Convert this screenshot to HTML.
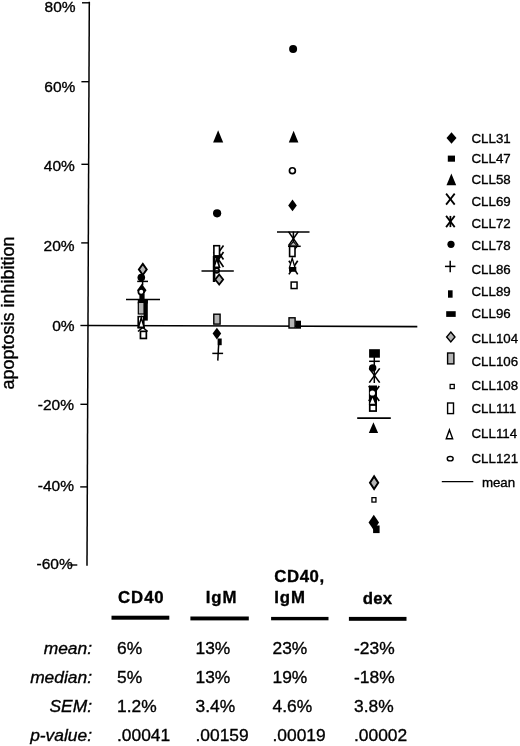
<!DOCTYPE html>
<html><head><meta charset="utf-8"><title>apoptosis inhibition</title>
<style>
html,body{margin:0;padding:0;background:#fff;}
body{width:520px;height:746px;overflow:hidden;position:relative;}
svg{position:absolute;left:0;top:0;display:block;filter:grayscale(1) blur(0.3px);}
text{font-family:"Liberation Sans", sans-serif;fill:#000;stroke:#000;stroke-width:0.35px;}
</style></head><body>
<svg width="520" height="746" viewBox="0 0 520 746">
<line x1="89.3" y1="1.8" x2="87.0" y2="565.8" stroke="#000" stroke-width="1.5"/>
<line x1="82.0" y1="2.8" x2="89.3" y2="2.8" stroke="#000" stroke-width="1.4"/>
<text x="75.6" y="11.5" font-size="15.5" text-anchor="end">80%</text>
<line x1="81.4" y1="81.7" x2="88.97" y2="81.7" stroke="#000" stroke-width="1.4"/>
<text x="75.3" y="91.5" font-size="15.5" text-anchor="end">60%</text>
<line x1="81.4" y1="164.3" x2="88.64" y2="164.3" stroke="#000" stroke-width="1.4"/>
<text x="74.9" y="171.1" font-size="15.5" text-anchor="end">40%</text>
<line x1="81.2" y1="242.9" x2="88.32" y2="242.9" stroke="#000" stroke-width="1.4"/>
<text x="74.6" y="251.2" font-size="15.5" text-anchor="end">20%</text>
<line x1="80.4" y1="325.5" x2="87.98" y2="325.5" stroke="#000" stroke-width="1.4"/>
<text x="74.6" y="330.5" font-size="15.5" text-anchor="end">0%</text>
<line x1="80.4" y1="404.3" x2="87.66" y2="404.3" stroke="#000" stroke-width="1.4"/>
<text x="74.0" y="410.2" font-size="15.5" text-anchor="end">-20%</text>
<line x1="80.2" y1="486.9" x2="87.32" y2="486.9" stroke="#000" stroke-width="1.4"/>
<text x="74.0" y="490.8" font-size="15.5" text-anchor="end">-40%</text>
<line x1="69.2" y1="565.0" x2="77.3" y2="565.0" stroke="#000" stroke-width="1.4"/>
<text x="72.7" y="569.0" font-size="15.5" text-anchor="end">-60%</text>
<line x1="87.98" y1="325.5" x2="417.3" y2="326.6" stroke="#000" stroke-width="1.6"/>
<text transform="translate(14.2,389.5) rotate(-90)" font-size="18" x="0" y="0">apoptosis inhibition</text>
<text x="471.5" y="142.6" font-size="13.3" text-anchor="start">CLL31</text>
<text x="471.5" y="163.4" font-size="13.3" text-anchor="start">CLL47</text>
<text x="471.5" y="184.4" font-size="13.3" text-anchor="start">CLL58</text>
<text x="471.5" y="205.9" font-size="13.3" text-anchor="start">CLL69</text>
<text x="471.5" y="227.8" font-size="13.3" text-anchor="start">CLL72</text>
<text x="471.5" y="250.1" font-size="13.3" text-anchor="start">CLL78</text>
<text x="471.5" y="273.5" font-size="13.3" text-anchor="start">CLL86</text>
<text x="471.5" y="296.2" font-size="13.3" text-anchor="start">CLL89</text>
<text x="471.5" y="318.2" font-size="13.3" text-anchor="start">CLL96</text>
<text x="471.5" y="342.5" font-size="13.3" text-anchor="start">CLL104</text>
<text x="471.5" y="365.5" font-size="13.3" text-anchor="start">CLL106</text>
<text x="471.5" y="390.2" font-size="13.3" text-anchor="start">CLL108</text>
<text x="471.5" y="412.8" font-size="13.3" text-anchor="start">CLL111</text>
<text x="471.5" y="438.2" font-size="13.3" text-anchor="start">CLL114</text>
<text x="471.5" y="463.2" font-size="13.3" text-anchor="start">CLL121</text>
<text x="481.9" y="486.5" font-size="13.3" text-anchor="start">mean</text>
<line x1="441.8" y1="481.6" x2="473.3" y2="481.6" stroke="#000" stroke-width="1.4"/>
<polygon points="451.5,132.25 456.5,138 451.5,143.75 446.5,138" fill="#000"/>
<rect x="447.80" y="155.60" width="7.20" height="6.10" fill="#000"/>
<polygon points="451.35,173.5 456.2,185.3 446.5,185.3" fill="#000"/>
<line x1="446.09999999999997" y1="193.6" x2="454.7" y2="204.6" stroke="#000" stroke-width="1.75"/>
<line x1="454.7" y1="193.6" x2="446.09999999999997" y2="204.6" stroke="#000" stroke-width="1.75"/>
<line x1="446.09999999999997" y1="215.9" x2="454.7" y2="227.1" stroke="#000" stroke-width="1.75"/>
<line x1="454.7" y1="215.9" x2="446.09999999999997" y2="227.1" stroke="#000" stroke-width="1.75"/>
<line x1="450.4" y1="215.9" x2="450.4" y2="227.1" stroke="#000" stroke-width="1.75"/>
<ellipse cx="451" cy="244.3" rx="3.6" ry="3.6" fill="#000"/>
<line x1="444.95" y1="266.4" x2="455.45" y2="266.4" stroke="#000" stroke-width="1.5"/>
<line x1="450.2" y1="260.65" x2="450.2" y2="272.15" stroke="#000" stroke-width="1.5"/>
<rect x="448.00" y="290.30" width="4.60" height="7.40" fill="#000"/>
<rect x="446.20" y="311.20" width="9.50" height="5.70" fill="#000"/>
<polygon points="450.8,331.98 454.96000000000004,337 450.8,342.02 446.64,337" fill="#b4b4b4" stroke="#000" stroke-width="1.4" stroke-linejoin="miter"/>
<rect x="447.60" y="353.00" width="6.30" height="10.90" fill="#b4b4b4" stroke="#000" stroke-width="1.4"/>
<rect x="450.15" y="384.45" width="4.10" height="4.10" fill="#fff" stroke="#000" stroke-width="1.3"/>
<rect x="447.60" y="403.00" width="5.90" height="10.60" fill="#fff" stroke="#000" stroke-width="1.4"/>
<polygon points="449.45,429.92 452.66,438.8 446.23999999999995,438.8" fill="#fff" stroke="#000" stroke-width="1.4" stroke-linejoin="miter"/>
<ellipse cx="450.2" cy="458.7" rx="2.95" ry="2.15" fill="#fff" stroke="#000" stroke-width="1.4"/>
<polygon points="142.8,263.83 146.76000000000002,269.4 142.8,274.96999999999997 138.84,269.4" fill="#b4b4b4" stroke="#000" stroke-width="1.9" stroke-linejoin="miter"/>
<ellipse cx="141.3" cy="277.6" rx="3.8" ry="3.8" fill="#000"/>
<line x1="137.2" y1="281.4" x2="148.0" y2="281.4" stroke="#000" stroke-width="1.5"/>
<line x1="142.6" y1="277.4" x2="142.6" y2="285.4" stroke="#000" stroke-width="1.5"/>
<polygon points="141.8,283.7 146.5,290.2 141.8,296.7 137.10000000000002,290.2" fill="#000"/>
<ellipse cx="141.2" cy="291.8" rx="2.85" ry="2.85" fill="#fff" stroke="#000" stroke-width="1.7"/>
<rect x="139.40" y="294.00" width="5.20" height="5.50" fill="#000"/>
<line x1="126" y1="299.5" x2="160" y2="299.5" stroke="#000" stroke-width="1.7"/>
<rect x="137.80" y="299.00" width="10.00" height="4.50" fill="#000"/>
<rect x="138.30" y="302.40" width="6.00" height="11.60" fill="#b4b4b4" stroke="#000" stroke-width="1.2"/>
<rect x="143.60" y="299.00" width="4.20" height="21.60" fill="#000"/>
<line x1="138" y1="331.5" x2="142.6" y2="327.5" stroke="#000" stroke-width="1.6"/>
<line x1="147.6" y1="331.5" x2="143.0" y2="327.5" stroke="#000" stroke-width="1.6"/>
<rect x="138.20" y="316.60" width="5.60" height="11.20" fill="#fff" stroke="#000" stroke-width="1.6"/>
<polygon points="141.3,317.7 144.1,327.25 138.5,327.25" fill="#fff" stroke="#000" stroke-width="1.5" stroke-linejoin="miter"/>
<rect x="140.45" y="331.35" width="5.90" height="7.10" fill="#fff" stroke="#000" stroke-width="1.7"/>
<polygon points="218.14999999999998,130.2 223.2,142.5 213.1,142.5" fill="#000"/>
<ellipse cx="217.1" cy="213.3" rx="4.1" ry="4.1" fill="#000"/>
<line x1="213.5" y1="245.5" x2="223.5" y2="259.5" stroke="#000" stroke-width="1.6"/>
<line x1="223.5" y1="245.5" x2="213.5" y2="259.5" stroke="#000" stroke-width="1.6"/>
<line x1="213.5" y1="252.0" x2="223.5" y2="267.0" stroke="#000" stroke-width="1.6"/>
<line x1="223.5" y1="252.0" x2="213.5" y2="267.0" stroke="#000" stroke-width="1.6"/>
<line x1="218.5" y1="252.0" x2="218.5" y2="267.0" stroke="#000" stroke-width="1.6"/>
<rect x="213.90" y="245.70" width="5.60" height="10.20" fill="#fff" stroke="#000" stroke-width="1.6"/>
<rect x="212.80" y="256.00" width="2.60" height="26.00" fill="#000"/>
<rect x="213.50" y="255.80" width="6.80" height="2.20" fill="#000"/>
<polygon points="216.75,258.78 219.54,267.2 213.96,267.2" fill="#fff" stroke="#000" stroke-width="1.6" stroke-linejoin="miter"/>
<line x1="201.5" y1="271" x2="233.8" y2="271" stroke="#000" stroke-width="1.7"/>
<ellipse cx="216.8" cy="270.5" rx="2.40" ry="2.40" fill="#fff" stroke="#000" stroke-width="1.6"/>
<line x1="213.5" y1="271" x2="220" y2="271" stroke="#000" stroke-width="1.7"/>
<polygon points="219.2,274.56 223.11999999999998,279.5 219.2,284.44 215.28,279.5" fill="#b4b4b4" stroke="#000" stroke-width="1.8" stroke-linejoin="miter"/>
<rect x="213.80" y="314.20" width="6.30" height="9.90" fill="#b4b4b4" stroke="#000" stroke-width="1.4"/>
<polygon points="216.9,327.70000000000005 221.20000000000002,333.6 216.9,339.5 212.6,333.6" fill="#000"/>
<rect x="217.60" y="338.50" width="4.10" height="6.70" fill="#000"/>
<line x1="212.3" y1="353.4" x2="223.1" y2="353.4" stroke="#000" stroke-width="1.5"/>
<line x1="218.6" y1="345" x2="217.8" y2="360.6" stroke="#000" stroke-width="1.5"/>
<ellipse cx="293.1" cy="48.9" rx="4.0" ry="4.0" fill="#000"/>
<polygon points="293.6,130.7 298.4,142.5 288.8,142.5" fill="#000"/>
<ellipse cx="292.4" cy="170.7" rx="2.95" ry="2.95" fill="#fff" stroke="#000" stroke-width="1.7"/>
<polygon points="292.5,199.5 296.8,205.4 292.5,211.3 288.2,205.4" fill="#000"/>
<line x1="277" y1="232" x2="309.5" y2="232" stroke="#000" stroke-width="1.45"/>
<line x1="288.5" y1="231.6" x2="298.29999999999995" y2="245.6" stroke="#000" stroke-width="1.6"/>
<line x1="298.29999999999995" y1="231.6" x2="288.5" y2="245.6" stroke="#000" stroke-width="1.6"/>
<line x1="293.4" y1="231.6" x2="293.4" y2="245.6" stroke="#000" stroke-width="1.6"/>
<polygon points="293.4,241.67 297.43999999999994,246.2 293.4,250.73 289.36,246.2" fill="#b4b4b4" stroke="#000" stroke-width="1.1" stroke-linejoin="miter"/>
<line x1="288" y1="246.3" x2="300.7" y2="246.3" stroke="#000" stroke-width="1.5"/>
<rect x="289.60" y="246.40" width="5.40" height="10.10" fill="#fff" stroke="#000" stroke-width="1.6"/>
<line x1="288.90000000000003" y1="260.8" x2="297.7" y2="274.40000000000003" stroke="#000" stroke-width="1.6"/>
<line x1="297.7" y1="260.8" x2="288.90000000000003" y2="274.40000000000003" stroke="#000" stroke-width="1.6"/>
<rect x="289.00" y="266.80" width="7.30" height="5.00" fill="#000"/>
<polygon points="292.20000000000005,258.24 295.02000000000004,267.75 289.38,267.75" fill="#fff" stroke="#000" stroke-width="1.3" stroke-linejoin="miter"/>
<rect x="291.15" y="282.05" width="5.90" height="6.50" fill="#fff" stroke="#000" stroke-width="1.5"/>
<rect x="289.00" y="317.80" width="6.10" height="10.20" fill="#b4b4b4" stroke="#000" stroke-width="1.4"/>
<rect x="295.50" y="320.70" width="5.50" height="8.00" fill="#000"/>
<rect x="369.10" y="349.20" width="10.80" height="8.50" fill="#000"/>
<line x1="369.1" y1="361.3" x2="379.8" y2="361.3" stroke="#000" stroke-width="1.5"/>
<line x1="374.3" y1="357" x2="374.3" y2="383" stroke="#000" stroke-width="1.5"/>
<ellipse cx="372.7" cy="368" rx="3.7" ry="3.7" fill="#000"/>
<line x1="369.3" y1="368.4" x2="379.7" y2="382.6" stroke="#000" stroke-width="1.6"/>
<line x1="379.7" y1="368.4" x2="369.3" y2="382.6" stroke="#000" stroke-width="1.6"/>
<line x1="368.75" y1="386.0" x2="379.25" y2="401.0" stroke="#000" stroke-width="1.6"/>
<line x1="379.25" y1="386.0" x2="368.75" y2="401.0" stroke="#000" stroke-width="1.6"/>
<line x1="374" y1="386.0" x2="374" y2="401.0" stroke="#000" stroke-width="1.6"/>
<rect x="368.90" y="385.50" width="8.10" height="19.50" fill="#000"/>
<ellipse cx="372.4" cy="393" rx="2.6" ry="2.6" fill="#fff"/>
<polygon points="372.5,397.8 375,403.7 370,403.7" fill="#fff"/>
<rect x="369.75" y="405.05" width="6.40" height="6.00" fill="#fff" stroke="#000" stroke-width="1.7"/>
<line x1="357.2" y1="418.1" x2="390.8" y2="418.1" stroke="#000" stroke-width="1.8"/>
<polygon points="373.45000000000005,422.3 378.1,433.1 368.8,433.1" fill="#000"/>
<polygon points="374.1,476.4 378.20000000000005,482.7 374.1,489.0 370.0,482.7" fill="#b4b4b4" stroke="#000" stroke-width="2.0" stroke-linejoin="miter"/>
<rect x="371.95" y="497.65" width="4.00" height="4.40" fill="#fff" stroke="#000" stroke-width="1.3"/>
<polygon points="373.8,514.75 379.05,522.5 373.8,530.25 368.55,522.5" fill="#000"/>
<rect x="373.10" y="525.50" width="6.50" height="7.60" fill="#000"/>
<text x="118.1" y="602.8" font-size="16.8" font-weight="bold" text-anchor="start" letter-spacing="0.9">CD40</text>
<text x="205.8" y="603.0" font-size="16.8" font-weight="bold" text-anchor="start" letter-spacing="0.9">IgM</text>
<text x="274.2" y="582.0" font-size="16.8" font-weight="bold" text-anchor="start" letter-spacing="0.6">CD40,</text>
<text x="274.2" y="602.8" font-size="16.8" font-weight="bold" text-anchor="start" letter-spacing="0.9">IgM</text>
<text x="362.8" y="603.8" font-size="16.8" font-weight="bold" text-anchor="start" letter-spacing="0.15">dex</text>
<rect x="111.50" y="615.70" width="57.80" height="4.00" fill="#000"/>
<rect x="190.40" y="616.50" width="58.40" height="3.90" fill="#000"/>
<rect x="271.10" y="616.90" width="57.40" height="3.40" fill="#000"/>
<rect x="348.90" y="616.90" width="57.60" height="3.90" fill="#000"/>
<text x="92.0" y="653.8" font-size="17.4" font-style="italic" text-anchor="end">mean:</text>
<text x="117.0" y="653.8" font-size="17.4" text-anchor="start">6%</text>
<text x="195.5" y="653.8" font-size="17.4" text-anchor="start">13%</text>
<text x="272.5" y="653.8" font-size="17.4" text-anchor="start">23%</text>
<text x="354.0" y="653.8" font-size="17.4" text-anchor="start">-23%</text>
<text x="92.0" y="682.6" font-size="17.4" font-style="italic" text-anchor="end">median:</text>
<text x="117.0" y="682.6" font-size="17.4" text-anchor="start">5%</text>
<text x="195.5" y="682.6" font-size="17.4" text-anchor="start">13%</text>
<text x="272.5" y="682.6" font-size="17.4" text-anchor="start">19%</text>
<text x="354.0" y="682.6" font-size="17.4" text-anchor="start">-18%</text>
<text x="92.0" y="711.8" font-size="17.4" font-style="italic" text-anchor="end">SEM:</text>
<text x="117.0" y="711.8" font-size="17.4" text-anchor="start">1.2%</text>
<text x="195.5" y="711.8" font-size="17.4" text-anchor="start">3.4%</text>
<text x="272.5" y="711.8" font-size="17.4" text-anchor="start">4.6%</text>
<text x="354.0" y="711.8" font-size="17.4" text-anchor="start">3.8%</text>
<text x="92.0" y="740.5" font-size="17.4" font-style="italic" text-anchor="end">p-value:</text>
<text x="117.0" y="740.5" font-size="17.4" text-anchor="start">.00041</text>
<text x="195.5" y="740.5" font-size="17.4" text-anchor="start">.00159</text>
<text x="272.5" y="740.5" font-size="17.4" text-anchor="start">.00019</text>
<text x="354.0" y="740.5" font-size="17.4" text-anchor="start">.00002</text>
</svg>
</body></html>
